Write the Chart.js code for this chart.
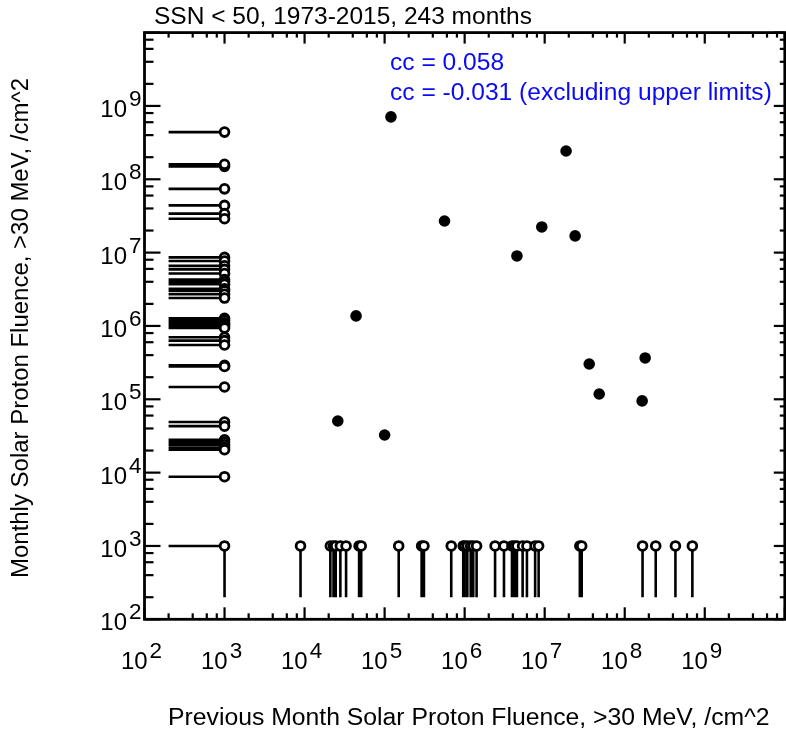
<!DOCTYPE html>
<html>
<head>
<meta charset="utf-8">
<script src="https://cdn.jsdelivr.net/npm/chart.js@4.4.1/dist/chart.umd.min.js"></script>
<style>
  html, body { margin: 0; padding: 0; background: #fff; overflow: hidden; width: 786px; height: 732px; }
  #wrap { position: absolute; left: 0; top: 0; width: 792px; height: 732px; }
</style>
</head>
<body>
<div id="wrap"><canvas id="c" width="792" height="732"></canvas></div>
<script>
// ---- text ----
const titleText = 'SSN < 50, 1973-2015, 243 months';
const xAxisTitle = 'Previous Month Solar Proton Fluence, >30 MeV, /cm^2';
const yAxisTitle = 'Monthly Solar Proton Fluence, >30 MeV, /cm^2';
const ccLines = ['cc = 0.058', 'cc = -0.031 (excluding upper limits)'];

// ---- axis ticks (log decades and minor multipliers) ----
const decadeExponents = [2, 3, 4, 5, 6, 7, 8, 9, 10];
const labelExponents = [2, 3, 4, 5, 6, 7, 8, 9];
const minorMultipliers = [2, 4, 6, 8];

// ---- upper-limit convention ----
const limitValue = 1000;   // months with no event are plotted at this level
const stemEnd = 200;       // stems point from the limit down to this value

// ---- months where both months had measurable fluence ----
const bothPrevX = [1.2e5, 1.85e7, 5.6e5, 9.2e6, 2.4e7, 4.5e6, 4.4e4, 1.8e8, 3.6e7, 4.8e7, 1.65e8, 2.6e4, 1.0e5];
const bothCurY  = [7.1e8, 2.43e8, 2.7e7, 2.24e7, 1.69e7, 9.0e6, 1.37e6, 3.66e5, 3.03e5, 1.18e5, 9.5e4, 5.06e4, 3.26e4];

// ---- previous month is an upper limit, current month measured ----
const prevLimitCurY = [
  4.4e8, 1.5e8, 1.6e8, 7.4e7, 4.4e7, 3.4e7, 2.9e7,
  8.6e6, 7.7e6, 6.6e6, 5.9e6, 5.2e6, 4.3e6, 4.0e6, 3.7e6, 3.2e6, 3.0e6, 2.7e6, 2.4e6,
  1.27e6, 1.2e6, 1.1e6, 1.05e6, 1.0e6, 9.4e5, 7.0e5, 6.3e5, 5.5e5,
  2.9e5, 2.8e5, 1.47e5,
  4.9e4, 4.3e4, 2.8e4, 2.6e4, 2.4e4, 2.2e4, 2.05e4, 8.8e3
];

// ---- previous month measured, current month is an upper limit ----
const curLimitPrevX = [
  8.9e3, 2.1e4, 2.3e4, 2.45e4, 2.8e4, 3.3e4, 4.8e4, 5.1e4, 1.5e5, 2.9e5, 3.1e5, 6.8e5,
  9.6e5, 1.0e6, 1.08e6, 1.19e6, 1.28e6, 1.41e6,
  2.4e6, 3.1e6, 3.9e6, 4.2e6, 4.5e6, 5.3e6, 6.0e6, 7.6e6, 8.4e6,
  2.75e7, 2.9e7, 1.67e8, 2.44e8, 4.3e8, 7.0e8
];

// ---- build the datasets from the arrays ----
const detectedPts = bothPrevX.map((x, i) => ({ x, y: bothCurY[i] }));
const limitPts = [{ x: limitValue, y: limitValue }]
  .concat(prevLimitCurY.map(y => ({ x: limitValue, y })))
  .concat(curLimitPrevX.map(x => ({ x, y: limitValue })));

// stems: horizontal for a limited previous month, vertical for a limited current month
const stemPts = [];
prevLimitCurY.concat([limitValue]).forEach(y => {
  stemPts.push({ x: stemEnd, y }, { x: limitValue, y }, { x: limitValue, y: null });
});
curLimitPrevX.concat([limitValue]).forEach(x => {
  stemPts.push({ x, y: limitValue }, { x, y: stemEnd }, { x, y: null });
});

const FONT = '"Liberation Sans", Arial, Helvetica, sans-serif';

function fitSize(ctx, text, width, base) {
  ctx.font = base + 'px ' + FONT;
  return base * width / ctx.measureText(text).width;
}

// Frame, inward ticks on all four sides, tick labels and all captions
const framePlugin = {
  id: 'frame',
  afterDraw(chart) {
    const { ctx, chartArea: a, scales } = chart;
    const xs = scales.x, ys = scales.y;
    ctx.save();
    ctx.strokeStyle = '#000';
    ctx.lineCap = 'butt';

    // ticks
    ctx.lineWidth = 2.2;
    const tick = (x1, y1, x2, y2) => { ctx.beginPath(); ctx.moveTo(x1, y1); ctx.lineTo(x2, y2); ctx.stroke(); };
    const allTicks = [];
    decadeExponents.forEach(e => {
      allTicks.push({ v: Math.pow(10, e), major: true });
      if (e < 10) minorMultipliers.forEach(m => allTicks.push({ v: m * Math.pow(10, e), major: false }));
    });
    allTicks.forEach(t => {
      const px = xs.getPixelForValue(t.v);
      const py = ys.getPixelForValue(t.v);
      tick(px, a.bottom, px, a.bottom - (t.major ? 12 : 6));
      tick(px, a.top, px, a.top + (t.major ? 11 : 5));
      tick(a.left, py, a.left + (t.major ? 16 : 9), py);
      tick(a.right, py, a.right - (t.major ? 11 : 5), py);
    });

    // frame
    ctx.lineWidth = 2.8;
    ctx.strokeRect(a.left, a.top, a.right - a.left, a.bottom - a.top);

    // tick labels: "10" with a raised exponent
    ctx.fillStyle = '#000';
    ctx.textBaseline = 'alphabetic';
    const baseSize = 24, supSize = 22.5;
    const drawPow = (e, ax, by, align) => {
      ctx.font = baseSize + 'px ' + FONT;
      const w1 = ctx.measureText('10').width;
      ctx.font = supSize + 'px ' + FONT;
      const w2 = ctx.measureText(String(e)).width;
      const gap = 2;
      const total = w1 + gap + w2;
      const x0 = align === 'center' ? ax - total / 2 : ax - total;
      ctx.textAlign = 'left';
      ctx.font = baseSize + 'px ' + FONT;
      ctx.fillText('10', x0, by);
      ctx.font = supSize + 'px ' + FONT;
      ctx.fillText(String(e), x0 + w1 + gap, by - 11);
    };
    labelExponents.forEach(e => {
      drawPow(e, xs.getPixelForValue(Math.pow(10, e)) - 3, 669, 'center');
      drawPow(e, a.left - 3, ys.getPixelForValue(Math.pow(10, e)) + 11, 'right');
    });

    // title
    ctx.textAlign = 'left';
    ctx.font = fitSize(ctx, titleText, 378, 21) + 'px ' + FONT;
    ctx.fillText(titleText, 154, 23.5);

    // correlation notes
    ctx.fillStyle = 'rgb(10,10,245)';
    const ccSize = fitSize(ctx, ccLines[1], 382, 21);
    ctx.font = ccSize + 'px ' + FONT;
    ctx.fillText(ccLines[0], 390, 69.5);
    ctx.fillText(ccLines[1], 390, 99.5);

    // axis titles
    ctx.fillStyle = '#000';
    ctx.font = fitSize(ctx, xAxisTitle, 602, 21) + 'px ' + FONT;
    ctx.fillText(xAxisTitle, 168, 725);

    ctx.save();
    ctx.translate(28, 578);
    ctx.rotate(-Math.PI / 2);
    ctx.font = fitSize(ctx, yAxisTitle, 500, 21) + 'px ' + FONT;
    ctx.fillText(yAxisTitle, 0, 0);
    ctx.restore();

    ctx.restore();
  }
};

new Chart(document.getElementById('c'), {
  type: 'scatter',
  data: {
    datasets: [
      {
        label: 'measured',
        data: detectedPts,
        pointRadius: 5.8,
        pointBackgroundColor: '#000',
        pointBorderWidth: 0,
        order: 0
      },
      {
        label: 'upper limits',
        data: limitPts,
        pointRadius: 4.4,
        pointBackgroundColor: '#fff',
        pointBorderColor: '#000',
        pointBorderWidth: 2.8,
        order: 0
      },
      {
        type: 'line',
        label: 'limit stems',
        data: stemPts,
        showLine: true,
        spanGaps: false,
        borderColor: '#000',
        borderWidth: 2.6,
        pointRadius: 0,
        tension: 0,
        order: 1
      }
    ]
  },
  options: {
    responsive: false,
    animation: false,
    events: [],
    layout: { padding: { left: 144.5, top: 32.6, right: 2, bottom: 112.7 } },
    plugins: { legend: { display: false }, tooltip: { enabled: false }, title: { display: false } },
    scales: {
      x: { type: 'logarithmic', min: 100, max: 1e10, display: false },
      y: { type: 'logarithmic', min: 100, max: 1e10, display: false }
    }
  },
  plugins: [framePlugin]
});
</script>
</body>
</html>
